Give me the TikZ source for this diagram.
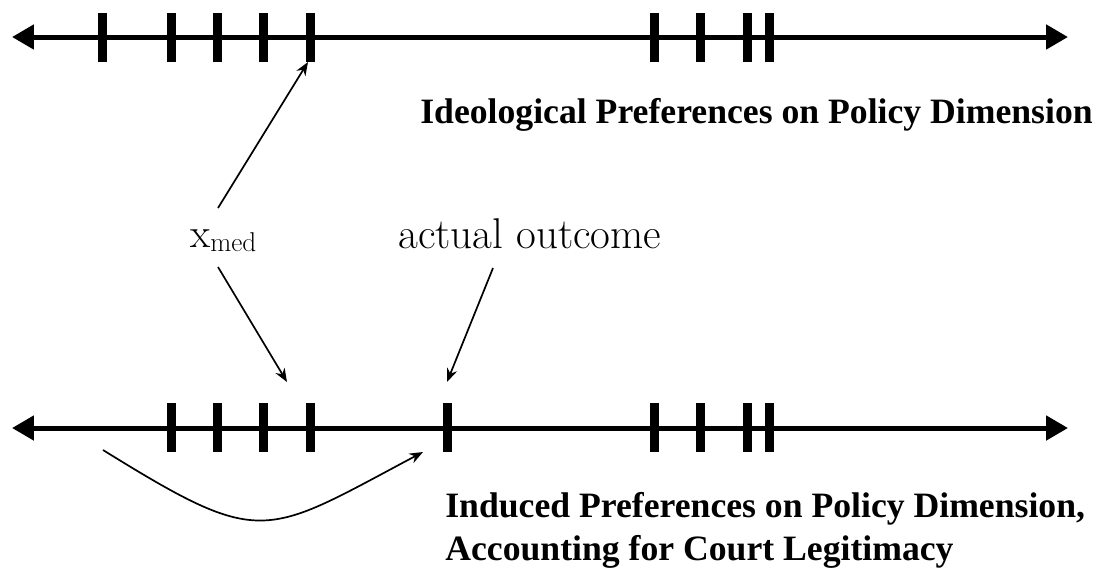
\documentclass[tikz,border=0pt]{standalone}
\usepackage{fontspec}
\setmainfont{Liberation Serif}
\newcommand{\plainserif}{\usefont{TU}{lmr}{m}{n}}
\usetikzlibrary{arrows.meta}
\tikzset{
  axisline/.style={line width=0.1cm, draw=black, {Triangle[length=0.44cm,width=0.48cm]}-{Triangle[length=0.44cm,width=0.48cm]}},
  tickmark/.style={line width=0.18cm, draw=black, line cap=butt},
  pointer/.style={line width=0.034cm, draw=black, -{Stealth[length=0.27cm,width=0.21cm]}},
  caption/.style={inner sep=0pt, anchor=base west, font=\fontsize{20.3}{24}\selectfont\bfseries},
  bigword/.style={inner sep=0pt, anchor=base west, font=\plainserif\fontsize{24.5}{28}\selectfont},
}

\begin{document}
\begin{tikzpicture}[x=0.02cm, y=-0.02cm]
\useasboundingbox (0,0) rectangle (1104,569);
\draw[axisline] (12,37) -- (1068,37);
\draw[axisline] (12,428) -- (1068,428);
\foreach \x [count=\i] in {102,171,217,263,310,654,700,747,769} {
  \draw[tickmark] (\x,13) -- (\x,62);
  \coordinate (t\i) at (\x,62);
}
\foreach \x [count=\i] in {171,217,263,310,447,654,700,747,769} {
  \draw[tickmark] (\x,403) -- (\x,452);
  \coordinate (b\i) at (\x,403);
}
\node[caption] (ideo) at (420,123) {Ideological Preferences on Policy Dimension};
\node[caption] (induced) at (445,517) {Induced Preferences on Policy Dimension,};
\node[caption] (legit) at (445,560) {Accounting for Court Legitimacy};
\node[inner sep=0pt, anchor=base west, font=\plainserif] (xmed) at (190,247)
  {{\fontsize{23.5}{24}\selectfont x}\raisebox{-2.8pt}{\fontsize{15.5}{16}\selectfont med}};
\node[bigword] (outcome) at (398,248) {actual outcome};
\coordinate (medup) at (218,208);
\coordinate (meddown) at (218,267);
\coordinate (outtail) at (493,268);
\coordinate (medtarget) at (287,382);
\coordinate (outtarget) at (447,382);
\coordinate (shiftfrom) at (103,450);
\coordinate (shiftto) at (423,452);
\draw[pointer] (medup) -- ([xshift=-0.04cm]t5);
\draw[pointer] (meddown) -- (medtarget);
\draw[pointer] (outtail) -- (outtarget);
\draw[pointer] (shiftfrom) .. controls (263,549) and (263,537) .. (shiftto);
\end{tikzpicture}
\end{document}
